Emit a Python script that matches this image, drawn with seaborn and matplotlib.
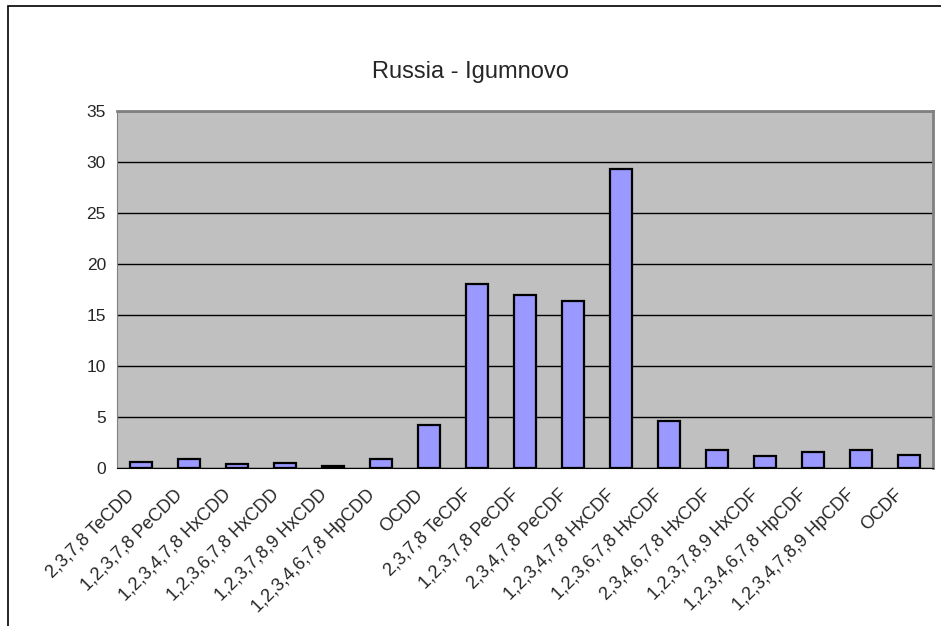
import matplotlib
matplotlib.use("Agg")
import matplotlib.pyplot as plt
import matplotlib.transforms as mtransforms
import seaborn as sns
import pandas as pd
from matplotlib.patches import Rectangle

# Congeners and concentrations
congeners = [
    "2,3,7,8 TeCDD", "1,2,3,7,8 PeCDD", "1,2,3,4,7,8 HxCDD", "1,2,3,6,7,8 HxCDD",
    "1,2,3,7,8,9 HxCDD", "1,2,3,4,6,7,8 HpCDD", "OCDD", "2,3,7,8 TeCDF",
    "1,2,3,7,8 PeCDF", "2,3,4,7,8 PeCDF", "1,2,3,4,7,8 HxCDF", "1,2,3,6,7,8 HxCDF",
    "2,3,4,6,7,8 HxCDF", "1,2,3,7,8,9 HxCDF", "1,2,3,4,6,7,8 HpCDF",
    "1,2,3,4,7,8,9 HpCDF", "OCDF",
]
values = [0.6, 0.85, 0.4, 0.5, 0.15, 0.9, 4.2, 18.0, 17.0, 16.4, 29.3, 4.6,
          1.8, 1.15, 1.6, 1.8, 1.3]
y_ticks = [0, 5, 10, 15, 20, 25, 30, 35]

df = pd.DataFrame({"congener": congeners, "value": values})

sns.set_style("white")
plt.rcParams["font.family"] = ["Liberation Sans", "DejaVu Sans"]

fig = plt.figure(figsize=(9.41, 6.26), dpi=100)
ax = fig.add_axes([117 / 941, 1 - 468 / 626, (933 - 117) / 941, (468 - 111) / 626])
ax.set_facecolor("#C0C0C0")

sns.barplot(data=df, x="congener", y="value", color="#9999FF", edgecolor="black",
            linewidth=1.6, width=0.44, saturation=1, ax=ax)

ax.set_ylim(0, 35)
ax.set_xlim(-0.5, len(congeners) - 0.5)
ax.set_yticks(y_ticks)
ax.set_yticklabels([str(t) for t in y_ticks], fontsize=12.5)
ax.yaxis.grid(True, color="black", linewidth=1)
ax.set_axisbelow(True)

# Excel style: tick marks between categories
ax.set_xticks(range(len(congeners)))
ax.set_xticklabels(congeners, rotation=45, ha="right", rotation_mode="anchor", fontsize=13)
ax.tick_params(axis="x", length=0, pad=13)
shift = mtransforms.ScaledTranslation(-15 / 100, 0, fig.dpi_scale_trans)
for lbl in ax.get_xticklabels():
    lbl.set_transform(lbl.get_transform() + shift)
ax.set_xticks([i - 0.5 for i in range(len(congeners) + 1)], minor=True)
ax.tick_params(axis="x", which="minor", length=5, width=1, color="#404040", direction="out")
ax.tick_params(axis="y", length=5, width=1, color="#404040", direction="out", pad=3)

ax.set_xlabel("")
ax.set_ylabel("")
for side in ["top", "right"]:
    ax.spines[side].set_color("#808080")
    ax.spines[side].set_linewidth(2)
ax.spines["left"].set_color("#808080")
ax.spines["bottom"].set_color("black")

fig.text(0.5, 1 - 72 / 626, "Russia - Igumnovo", ha="center", va="center", fontsize=17)

# outer chart border
fig.patches.append(Rectangle((8 / 941, -0.01), 1.0, 1 - 6 / 626 + 0.01, transform=fig.transFigure,
                             fill=False, edgecolor="black", linewidth=1.2))

fig.savefig("out.png", dpi=100)
